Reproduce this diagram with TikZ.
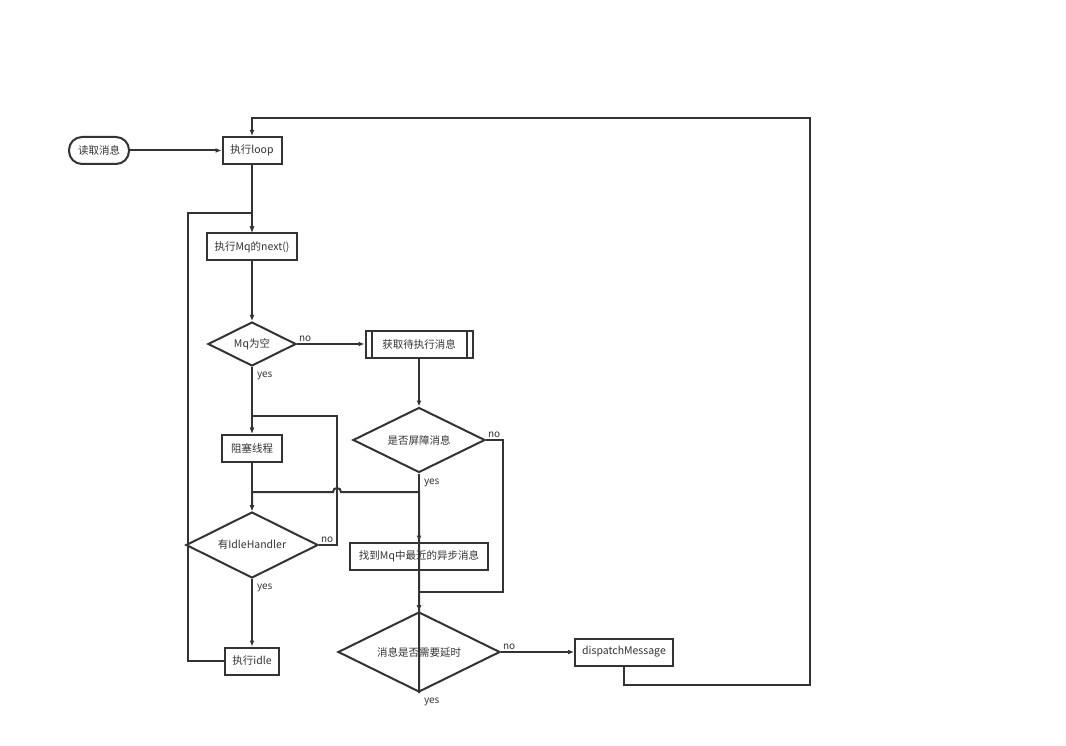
\documentclass[tikz,border=0pt]{standalone}
\usepackage{fontspec}
\setmainfont{Noto Sans CJK SC}
\usepackage{tikz}
\usetikzlibrary{arrows.meta,positioning,calc,shapes.geometric}
\definecolor{ink}{HTML}{333333}

\begin{document}
\begin{tikzpicture}[
  x=1pt, y=-1pt,
  every node/.style={inner sep=1pt, font=\fontsize{10.5}{12}\selectfont, text=ink},
  box/.style ={draw=ink, line width=2pt, fill=white, minimum height=27pt},
  term/.style={box, rounded corners=13pt},
  cond/.style={draw=ink, line width=2pt, fill=white, diamond, aspect=2, inner sep=0pt},
  ln/.style  ={draw=ink, line width=2pt},
  ar/.style  ={ln, -{Latex[length=6pt,width=5pt]}},
  lbl/.style ={font=\fontsize{10}{12}\selectfont, inner sep=1pt},
  yes/.style ={lbl, pos=0, below right=3pt and 3pt}]

\useasboundingbox (0,0) rectangle (1066,746);

% ---------------------------- left column ------------------------------
\node[term, minimum width=60pt] (read) at (99,150.5) {读取消息};
\node[box, minimum width=59pt] (loop) at (252,150.5) {执行loop};
\node[box, minimum width=90pt] (next) at (252,247) {执行Mq的next()};
\node[cond, minimum width=88pt, minimum height=44pt] (empty) at (252,344) {Mq为空};
\node[box, minimum width=60pt] (block) at (252,448) {阻塞线程};
\node[cond, minimum width=132pt, minimum height=66pt] (handler) at (252,545) {有IdleHandler};
\node[box, minimum width=54pt] (idle) at (252,661) {执行idle};

% ---------------------------- right column -----------------------------
\node[box, minimum width=107pt] (fetch) at (419,344) {获取待执行消息};
\draw[ln] ($(fetch.north west)+(7,0)$) -- ($(fetch.south west)+(7,0)$);
\draw[ln] ($(fetch.north east)+(-7,0)$) -- ($(fetch.south east)+(-7,0)$);
\node[cond, minimum width=132pt, minimum height=65pt] (barrier) at (419,440) {是否屏障消息};
\node[box, minimum width=138pt] (async) at (419,556) {找到Mq中最近的异步消息};
\node[cond, minimum width=162pt, minimum height=80pt] (delay) at (419,652) {消息是否需要延时};
\node[box, minimum width=98pt] (dispatch) at (624,652) {dispatchMessage};

% bends of the connectors
\coordinate (backtop) at (810,118);
\coordinate (backbot) at (810,685);
\coordinate (idlejoin) at (188,213);
\coordinate (handlerno) at (337,416);
\coordinate (barrierno) at (503,592);
\coordinate (yesjoin) at (419,492);
\coordinate (hop) at (337,492);

% ----------------------------- connectors ------------------------------
\draw[ar] (read) -- (loop);
\draw[ar] (loop) -- (next);
\draw[ar] (idle.west) -| (idlejoin) -| (next.north);
\draw[ar] (next) -- (empty);
\draw[ar] (empty) -- node[lbl, pos=0, above right] {no} (fetch);
\draw[ar] (empty) -- node[yes] {yes} (block);
\draw[ar] (block) -- (handler);
\draw[ar] (handler.east) -- node[lbl, pos=0, above right] {no} (handler.east -| handlerno)
  -- (handlerno) -| (block.north);
\draw[ar] (handler) -- node[yes] {yes} (idle);
\draw[ar] (fetch) -- (barrier);
\draw[ar] (barrier) -- node[yes] {yes} (async);
\draw[ar] (barrier.east) -- node[lbl, pos=0, above right] {no} (barrier.east -| barrierno)
  -- (barrierno) -| (delay.north);
\draw[ar] (async) -- (delay);
\draw[ar] (delay) -- node[lbl, pos=0, above right] {no} (dispatch);
\draw[ar] (dispatch.south) |- (backbot) -- (backtop) -| (loop.north);
% the yes branch of the delay test goes back up, hopping over the no line
\draw[ar] (delay.south) -- node[yes] {yes} (yesjoin)
  -- ($(hop)+(4,0)$) .. controls ($(hop)+(4,-5.3)$) and ($(hop)+(-4,-5.3)$) .. ($(hop)+(-4,0)$)
  -- (yesjoin -| handler.north) -- (handler.north);

\end{tikzpicture}
\end{document}
